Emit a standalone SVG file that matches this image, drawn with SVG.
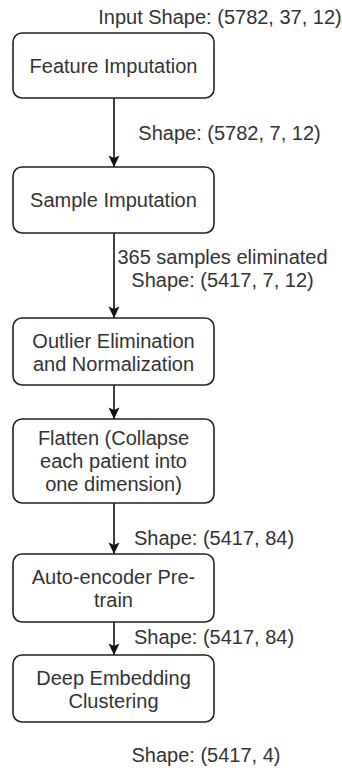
<svg xmlns="http://www.w3.org/2000/svg" width="342" height="770" viewBox="0 0 342 770">
<style>
text{font-family:"Liberation Sans",Arial,Helvetica,sans-serif;font-size:20px;fill:#333;text-anchor:middle}
.box{fill:#fff;stroke:#222;stroke-width:1.6}
.edge{stroke:#111;stroke-width:1.6;fill:none}
</style>
<defs>
<marker id="arr" markerWidth="12" markerHeight="12" viewBox="0 0 12 12" refX="12" refY="6" orient="auto" markerUnits="userSpaceOnUse">
<path d="M12 6 L0.5 0.5 L3 6 L0.5 11.5 Z" fill="#111"/>
</marker>
</defs>
<rect width="342" height="770" fill="#fff"/>
<g id="connectors">
<line class="edge" x1="114" y1="98" x2="114" y2="167" marker-end="url(#arr)"/>
<line class="edge" x1="114" y1="233" x2="114" y2="318" marker-end="url(#arr)"/>
<line class="edge" x1="114" y1="385" x2="114" y2="419" marker-end="url(#arr)"/>
<line class="edge" x1="114" y1="503" x2="114" y2="554" marker-end="url(#arr)"/>
<line class="edge" x1="114" y1="622" x2="114" y2="655" marker-end="url(#arr)"/>
</g>
<g id="labels">
<text x="220" y="24">Input Shape: (5782, 37, 12)</text>
<text x="229.5" y="140">Shape: (5782, 7, 12)</text>
<text x="222.5" y="264">365 samples eliminated</text>
<text x="222.5" y="287">Shape: (5417, 7, 12)</text>
<text x="214" y="545">Shape: (5417, 84)</text>
<text x="214" y="644">Shape: (5417, 84)</text>
<text x="206" y="762">Shape: (5417, 4)</text>
</g>
<g id="feature-imputation">
<rect class="box" x="13" y="33" width="201" height="65" rx="9"/>
<text x="113.5" y="72.5">Feature Imputation</text>
</g>
<g id="sample-imputation">
<rect class="box" x="13" y="167" width="201" height="66" rx="9"/>
<text x="113.5" y="207">Sample Imputation</text>
</g>
<g id="outlier-elimination">
<rect class="box" x="13" y="318" width="201" height="67" rx="9"/>
<text x="113.5" y="348">Outlier Elimination</text>
<text x="113.5" y="371">and Normalization</text>
</g>
<g id="flatten">
<rect class="box" x="13" y="419" width="201" height="84" rx="9"/>
<text x="113.5" y="445">Flatten (Collapse</text>
<text x="113.5" y="468">each patient into</text>
<text x="113.5" y="491">one dimension)</text>
</g>
<g id="autoencoder">
<rect class="box" x="13" y="554" width="201" height="68" rx="9"/>
<text x="113.5" y="583.5">Auto-encoder Pre-</text>
<text x="113.5" y="606.5">train</text>
</g>
<g id="dec">
<rect class="box" x="13" y="655" width="201" height="67" rx="9"/>
<text x="113.5" y="684.5">Deep Embedding</text>
<text x="113.5" y="707.5">Clustering</text>
</g>
</svg>
